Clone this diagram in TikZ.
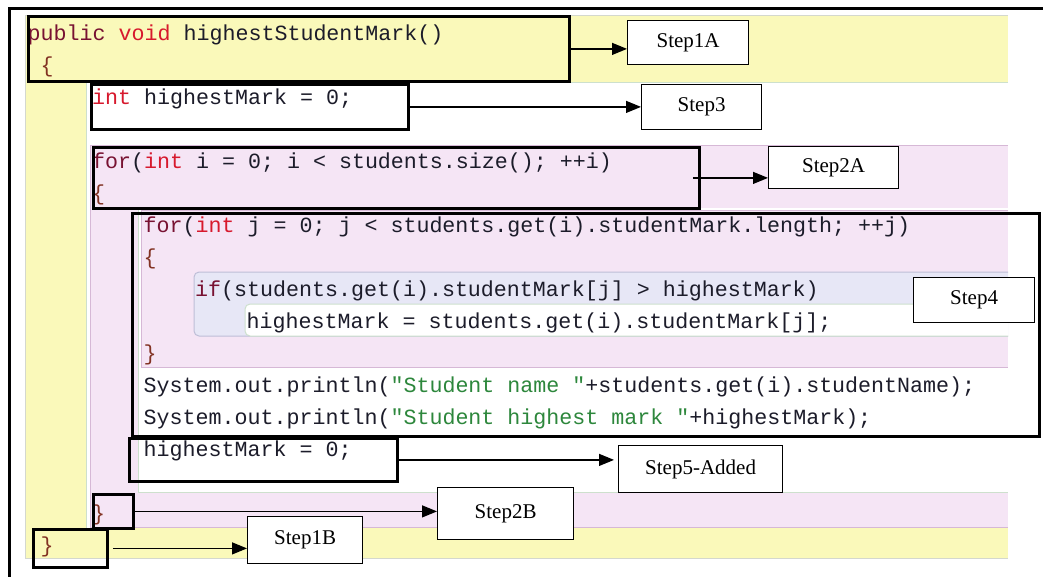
\documentclass[tikz,border=0pt]{standalone}
\usepackage{fontspec}
\setmainfont{Liberation Serif}
\newfontfamily\codefont{Liberation Mono}
\usetikzlibrary{arrows.meta}

% editor scope colours
\definecolor{scopeYellow}{RGB}{250,249,186}
\definecolor{scopePink}{RGB}{245,229,245}
\definecolor{scopeLav}{RGB}{231,231,246}
\definecolor{edgeGray}{RGB}{212,216,206}
\definecolor{edgeGreen}{RGB}{205,224,205}
\definecolor{edgePurple}{RGB}{214,184,214}
\definecolor{edgeLav}{RGB}{190,190,215}
% syntax colours
\definecolor{kwcol}{RGB}{120,18,50}
\definecolor{tycol}{RGB}{215,25,45}
\definecolor{brcol}{RGB}{130,50,35}
\definecolor{plaincol}{RGB}{28,28,42}
\definecolor{strcol}{RGB}{45,135,60}

\newcommand\kw[1]{\textcolor{kwcol}{#1}}
\newcommand\ty[1]{\textcolor{tycol}{#1}}
\newcommand\br[1]{\textcolor{brcol}{#1}}
\newcommand\jstr[1]{\textcolor{strcol}{#1}}

\begin{document}
\begin{tikzpicture}[x=1pt,y=-1pt,
  code/.style={anchor=base west, inner sep=0pt, text=plaincol,
    font={\codefont\fontsize{21.65}{32}\selectfont}},
  hl/.style={draw=black, line width=2.8pt, inner sep=0pt, anchor=north west},
  stepbox/.style={draw=black, fill=white, line width=1.2pt, inner sep=0pt,
    anchor=north west, font={\fontsize{21}{25}\selectfont}},
  arr/.style={line width=1.2pt, -{Triangle[length=15pt,width=12pt]}}]
\useasboundingbox (0,0) rectangle (1043,576);

% method scope (yellow)
\fill[scopeYellow] (25,15) rectangle (1008,558);
\draw[edgeGray, line width=1pt] (1008,15) -- (25,15) -- (25,558) -- (1008,558);
\fill[white] (86,82) rectangle (1008,528);
\draw[edgeGreen, line width=1pt] (1008,82) -- (86,82) -- (86,528);

% outer loop scope (pink)
\fill[scopePink] (90,145) rectangle (1008,527);
\draw[edgePurple, line width=1pt] (1008,145) -- (90,145) -- (90,527) -- (1008,527);
\fill[white] (138,208) rectangle (1008,492);
\draw[edgeGreen, line width=1pt] (138,208) -- (138,492) -- (1008,492);

% inner loop scope (pink)
\fill[scopePink] (141,210) rectangle (1008,367);
\draw[edgePurple, line width=1pt] (1008,210) -- (141,210) -- (141,367) -- (1008,367);

% if scope (lavender) and its statement
\path[fill=scopeLav, draw=edgeLav, line width=1pt]
  (1008,272) [rounded corners=5pt] -- (194,272) -- (194,336) [sharp corners] -- (1008,336);
\path[fill=white, draw=edgeGreen, line width=1pt]
  (1008,304) [rounded corners=5pt] -- (245,304) -- (245,336) [sharp corners] -- (1008,336);

% source lines
\node[code] (l0)  at (27.5,40)   {\kw{public} \ty{void} highestStudentMark()};
\node[code] (l1)  at (40.4,72)   {\br{\{}};
\node[code] (l2)  at (92.0,104)  {\ty{int} highestMark = 0;};
\node[code] (l4)  at (92.0,168)  {\kw{for}(\ty{int} i = 0; i < students.size(); ++i)};
\node[code] (l5)  at (92.0,200)  {\br{\{}};
\node[code] (l6)  at (143.5,232) {\kw{for}(\ty{int} j = 0; j < students.get(i).studentMark.length; ++j)};
\node[code] (l7)  at (143.5,264) {\br{\{}};
\node[code] (l8)  at (195.0,296) {\kw{if}(students.get(i).studentMark[j] > highestMark)};
\node[code] (l9)  at (246.5,328) {highestMark = students.get(i).studentMark[j];};
\node[code] (l10) at (143.5,360) {\br{\}}};
\node[code] (l11) at (143.5,392) {System.out.println(\jstr{"Student name "}+students.get(i).studentName);};
\node[code] (l12) at (143.5,424) {System.out.println(\jstr{"Student highest mark "}+highestMark);};
\node[code] (l13) at (143.5,456) {highestMark = 0;};
\node[code] (l15) at (92.0,520)  {\br{\}}};
\node[code] (l16) at (40.4,552)  {\br{\}}};

% highlighted regions
\node[hl, minimum width=541pt, minimum height=65pt]  (h1a) at (27,15)  {};
\node[hl, minimum width=317pt, minimum height=45pt]  (h3)  at (90,83)  {};
\node[hl, minimum width=606pt, minimum height=61pt]  (h2a) at (92,146) {};
\node[hl, minimum width=907pt, minimum height=223pt] (h4)  at (131,212) {};
\node[hl, minimum width=268pt, minimum height=43pt]  (h5)  at (128,437) {};
\node[hl, minimum width=40pt,  minimum height=34pt]  (h2b) at (92,493) {};
\node[hl, minimum width=74pt,  minimum height=38pt]  (h1b) at (32,528) {};

% step labels
\node[stepbox, minimum width=121pt, minimum height=44pt] (s1a) at (627,20)  {Step1A};
\node[stepbox, minimum width=120pt, minimum height=45pt] (s3)  at (641,84)  {Step3};
\node[stepbox, minimum width=130pt, minimum height=42pt] (s2a) at (768,146) {Step2A};
\node[stepbox, minimum width=121pt, minimum height=45pt] (s4)  at (913,277) {Step4};
\node[stepbox, minimum width=164pt, minimum height=47pt] (s5)  at (618,445) {Step5-Added};
\node[stepbox, minimum width=136pt, minimum height=52pt] (s2b) at (437,487) {Step2B};
\node[stepbox, minimum width=115pt, minimum height=47pt] (s1b) at (247,516) {Step1B};

% connectors
\draw[arr] (h1a.east) -- (s1a.west |- h1a.east);
\draw[arr] (h3.east) -- (s3.west |- h3.east);
\draw[arr, shorten <=-8pt] (h2a.east) -- (s2a.west |- h2a.east);
\draw[arr, shorten >=4pt] (h5.east) -- (s5.west |- h5.east);
\draw[arr] (h2b.east) -- (s2b.west |- h2b.east);
\draw[arr, shorten <=4pt] (h1b.east) -- (s1b.west |- h1b.east);

% page frame
\draw[line width=3pt] (9,580) -- (9,8) -- (1046,8);
\end{tikzpicture}
\end{document}
